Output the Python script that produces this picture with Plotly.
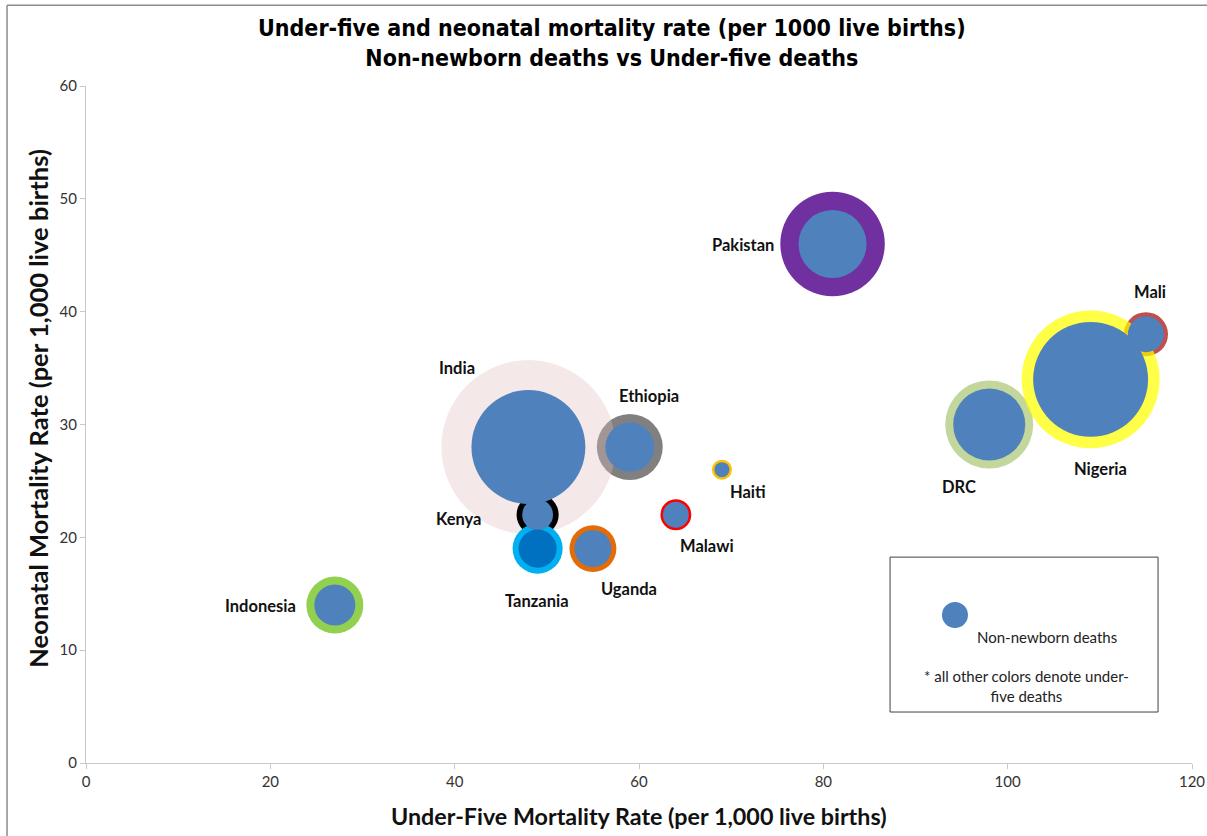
import plotly.graph_objects as go

# Country data: under-five mortality rate (x), neonatal mortality rate (y),
# under-five deaths and non-newborn deaths (thousands) for bubble areas.
countries = ["Ethiopia", "Mali", "Pakistan", "DRC", "Indonesia", "Uganda",
             "Malawi", "Haiti", "India", "Nigeria", "Kenya", "Tanzania"]
under5_rate = [59, 115, 81, 98, 27, 55, 64, 69, 48, 109, 49, 49]
neonatal_rate = [28, 38, 46, 30, 14, 19, 22, 26, 28, 34, 22, 19]
under5_deaths = [201, 90, 505, 358, 150, 102, 44, 18.5, 1400, 880, 82, 116]
non_newborn_deaths = [111, 60, 214, 240, 78, 63, 31, 10.4, 600, 611, 44, 67]

outer_colors = ["#808080", "#C0504D", "#7030A0", "#C3D69B", "#92D050", "#E36C09",
                "#FF0000", "#FFC000", "rgba(226,189,189,0.35)", "rgba(255,255,0,0.72)",
                "#000000", "#00B0F0"]
inner_colors = ["#4F81BD"] * 11 + ["#0070C0"]

# label offsets in pixels (dx, dy) relative to bubble centre
label_dx = [19, 4, -90, -30, -74, 36, 31, 26, -71, 10, -79, -1]
label_dy = [51, 42, -1, -62, -1, -40, -31, -22, 79, -90, -4, -52]

MAX_DIAMETER = 174
sizeref = 2.0 * max(under5_deaths) / MAX_DIAMETER ** 2

FONT = "Lato, Open Sans, sans-serif"

fig = go.Figure()
fig.add_trace(go.Scatter(
    x=under5_rate, y=neonatal_rate, mode="markers",
    marker=dict(size=under5_deaths, sizemode="area", sizeref=sizeref,
                color=outer_colors, line=dict(width=0), opacity=1),
    hoverinfo="text", text=countries, showlegend=False, cliponaxis=False,
))
fig.add_trace(go.Scatter(
    x=under5_rate, y=neonatal_rate, mode="markers",
    marker=dict(size=non_newborn_deaths, sizemode="area", sizeref=sizeref,
                color=inner_colors, line=dict(width=0), opacity=1),
    hoverinfo="text", text=countries, showlegend=False, cliponaxis=False,
))

annotations = []
for name, xv, yv, dx, dy in zip(countries, under5_rate, neonatal_rate, label_dx, label_dy):
    annotations.append(dict(
        x=xv, y=yv, xref="x", yref="y", text=f"<b>{name}</b>", showarrow=False,
        xshift=dx, yshift=dy, xanchor="center", yanchor="middle",
        font=dict(family=FONT, size=16.5, color="#111111"),
    ))

# chart title
annotations.append(dict(
    x=0.4756, y=1.0638, xref="paper", yref="paper", showarrow=False,
    xanchor="center", yanchor="middle", align="center",
    text="<b>Under-five and neonatal mortality rate (per 1000 live births)</b><br>"
         "<b>Non-newborn deaths vs Under-five deaths</b>",
    font=dict(family="Liberation Sans Narrow, Arial Narrow, DejaVu Sans Condensed, sans-serif",
              size=23, color="#000000"),
))
# axis titles
annotations.append(dict(
    x=0.5, y=-0.0783, xref="paper", yref="paper", showarrow=False,
    xanchor="center", yanchor="middle",
    text="<b>Under-Five Mortality Rate (per 1,000 live births)</b>",
    font=dict(family=FONT, size=23.3, color="#111111"),
))
annotations.append(dict(
    x=-0.0434, y=0.5249, xref="paper", yref="paper", showarrow=False,
    xanchor="center", yanchor="middle", textangle=-90,
    text="<b>Neonatal Mortality Rate (per 1,000 live births)</b>",
    font=dict(family=FONT, size=25.5, color="#111111"),
))
# key box texts
annotations.append(dict(
    x=0.869, y=0.186, xref="paper", yref="paper", showarrow=False,
    xanchor="center", yanchor="middle", text="Non-newborn deaths",
    font=dict(family=FONT, size=15, color="#222222"),
))
annotations.append(dict(
    x=0.850, y=0.1137, xref="paper", yref="paper", showarrow=False,
    xanchor="center", yanchor="middle", align="center",
    text="* all other colors denote under-<br>five deaths",
    font=dict(family=FONT, size=15, color="#222222"),
))

shapes = [
    # key box
    dict(type="rect", xref="paper", yref="paper", x0=0.727, x1=0.9693,
         y0=0.0753, y1=0.3041, line=dict(color="#404040", width=1), fillcolor="white",
         layer="below"),
    # key marker
    dict(type="circle", xref="paper", yref="paper", xsizemode="pixel", ysizemode="pixel",
         xanchor=0.7857, yanchor=0.2186, x0=-13, x1=13, y0=-13, y1=13,
         fillcolor="#4F81BD", line=dict(width=0)),
    # outer chart border (top and left edges)
    dict(type="line", xref="paper", yref="paper", x0=-0.0714, x1=1.05, y0=1.1192, y1=1.1192,
         line=dict(color="#8C8C8C", width=1.5)),
    dict(type="line", xref="paper", yref="paper", x0=-0.0714, x1=-0.0714, y0=-0.2, y1=1.1192,
         line=dict(color="#8C8C8C", width=1.5)),
]

axis_common = dict(
    showgrid=False, zeroline=False, showline=True, linecolor="#C8C8C8", linewidth=1,
    ticks="outside", ticklen=5, tickcolor="#C8C8C8", tickwidth=1, automargin=False,
    tickfont=dict(family=FONT, size=15, color="#333333"),
)

fig.update_layout(
    width=1207, height=836,
    margin=dict(l=86, r=15, t=86, b=73),
    paper_bgcolor="white", plot_bgcolor="white",
    xaxis=dict(range=[0, 120], dtick=20, tick0=0, **axis_common),
    yaxis=dict(range=[0, 60], dtick=10, tick0=0, **axis_common),
    annotations=annotations, shapes=shapes, showlegend=False,
)

fig.write_html("out.html")
